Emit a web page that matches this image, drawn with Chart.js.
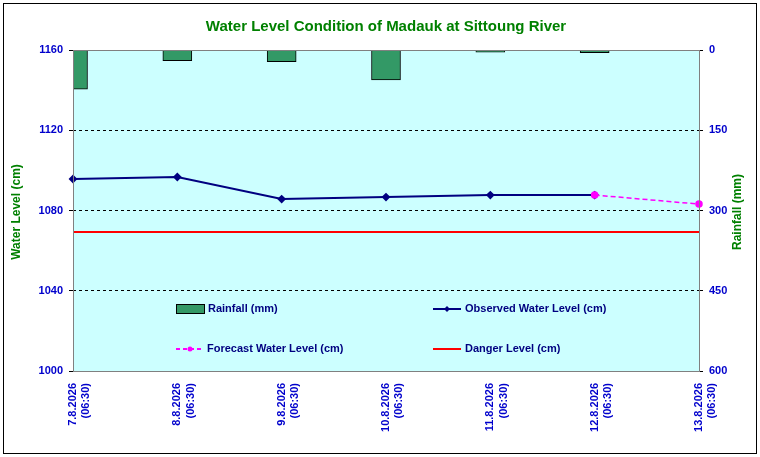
<!DOCTYPE html>
<html><head><meta charset="utf-8">
<script src="https://cdn.jsdelivr.net/npm/chart.js@4"></script>
<style>html,body{margin:0;padding:0;background:#fff}#w{width:760px;height:457px}</style>
</head><body><div id="w"><canvas id="c"></canvas></div>
<script>
const categories=[["7.8.2026","(06:30)"],["8.8.2026","(06:30)"],["9.8.2026","(06:30)"],["10.8.2026","(06:30)"],["11.8.2026","(06:30)"],["12.8.2026","(06:30)"],["13.8.2026","(06:30)"]];
const rainfall=[73,20,22,56,4,5,0];
const observed=[1095.7,1096.7,1085.7,1086.7,1087.7,1087.7,null];
const forecast=[null,null,null,null,null,1087.7,1083.2];
const danger=[1069.3,1069.3,1069.3,1069.3,1069.3,1069.3,1069.3];
const F='Arial, "Liberation Sans", sans-serif';
const deco={id:'deco',
beforeDraw(ch){const c=ch.ctx,a=ch.chartArea;c.save();c.fillStyle='#fff';c.fillRect(0,0,760,457);
c.fillStyle='#CCFFFF';c.fillRect(a.left,a.top,a.right-a.left,a.bottom-a.top);c.restore();},
afterDraw(ch){const c=ch.ctx,a=ch.chartArea;c.save();
c.strokeStyle='#000';c.lineWidth=1;c.strokeRect(3.5,3.5,753,450);
c.strokeStyle='#808080';c.strokeRect(a.left+.5,a.top+.5,a.right-a.left,a.bottom-a.top);
c.fillStyle='#008000';c.font='bold 15px '+F;c.textAlign='center';c.textBaseline='middle';
c.fillText('Water Level Condition of Madauk at Sittoung River',386,27);
c.font='bold 12px '+F;
c.translate(17,212);c.rotate(-Math.PI/2);c.fillText('Water Level (cm)',0,0);c.setTransform(1,0,0,1,0,0);
c.translate(738,212);c.rotate(-Math.PI/2);c.fillText('Rainfall (mm)',0,0);c.setTransform(1,0,0,1,0,0);
c.font='bold 11px '+F;c.textAlign='left';c.fillStyle='#000080';
c.fillStyle='#339966';c.fillRect(176,304,28,9);c.strokeStyle='#000';c.strokeRect(176.5,304.5,28,9);
c.fillStyle='#000080';c.fillText('Rainfall (mm)',208,309);
c.strokeStyle='#000080';c.lineWidth=2;c.beginPath();c.moveTo(433,309);c.lineTo(461,309);c.stroke();
c.fillStyle='#000080';c.beginPath();c.moveTo(447,306);c.lineTo(450,309);c.lineTo(447,312);c.lineTo(444,309);c.fill();
c.fillText('Observed Water Level (cm)',465,309);
c.strokeStyle='#FF00FF';c.setLineDash([4,3]);c.beginPath();c.moveTo(176,349);c.lineTo(204,349);c.stroke();c.setLineDash([]);
c.fillStyle='#FF00FF';c.beginPath();c.arc(190,349,2.5,0,7);c.fill();
c.fillStyle='#000080';c.fillText('Forecast Water Level (cm)',207,349);
c.strokeStyle='#FF0000';c.beginPath();c.moveTo(433,349);c.lineTo(461,349);c.stroke();
c.fillText('Danger Level (cm)',465,349);
c.restore();}};
new Chart(document.getElementById('c'),{
data:{labels:categories,datasets:[
{type:'line',data:danger,borderColor:'#FF0000',borderWidth:2,pointRadius:0,yAxisID:'y',order:2},
{type:'line',data:observed,borderColor:'#000080',backgroundColor:'#000080',borderWidth:2,pointStyle:'rectRot',pointRadius:3,yAxisID:'y',order:1},
{type:'line',data:forecast,borderColor:'#FF00FF',backgroundColor:'#FF00FF',borderWidth:1.5,borderDash:[5,3],pointRadius:3,yAxisID:'y',order:0},
{type:'bar',data:rainfall,backgroundColor:'#339966',borderColor:'#000',borderWidth:1,barThickness:29,yAxisID:'y2',order:3}
]},
options:{responsive:true,maintainAspectRatio:false,animation:false,
layout:{padding:{left:8,right:8,top:50,bottom:6}},
plugins:{legend:{display:false},tooltip:{enabled:false}},
scales:{
x:{offset:false,grid:{display:false},border:{display:false},
ticks:{maxRotation:90,minRotation:90,color:'#0000CC',font:{family:F,size:11,weight:'bold'},padding:4},
afterFit(s){s.height=80;}},
y:{position:'left',min:1000,max:1160,ticks:{stepSize:40,color:'#0000CC',font:{family:F,size:11,weight:'bold'},padding:6,callback:v=>String(v)},
grid:{color:'#000',drawTicks:true,tickLength:4,tickColor:'#000'},border:{display:false,dash:[3,3]},
afterFit(s){s.width=65;}},
y2:{position:'right',reverse:true,min:0,max:600,ticks:{stepSize:150,color:'#0000CC',font:{family:F,size:11,weight:'bold'},padding:6,callback:v=>String(v)},
grid:{drawOnChartArea:false,tickLength:4,tickColor:'#000'},border:{display:false},
afterFit(s){s.width=53;}}
}},
plugins:[deco]});
</script></body></html>
